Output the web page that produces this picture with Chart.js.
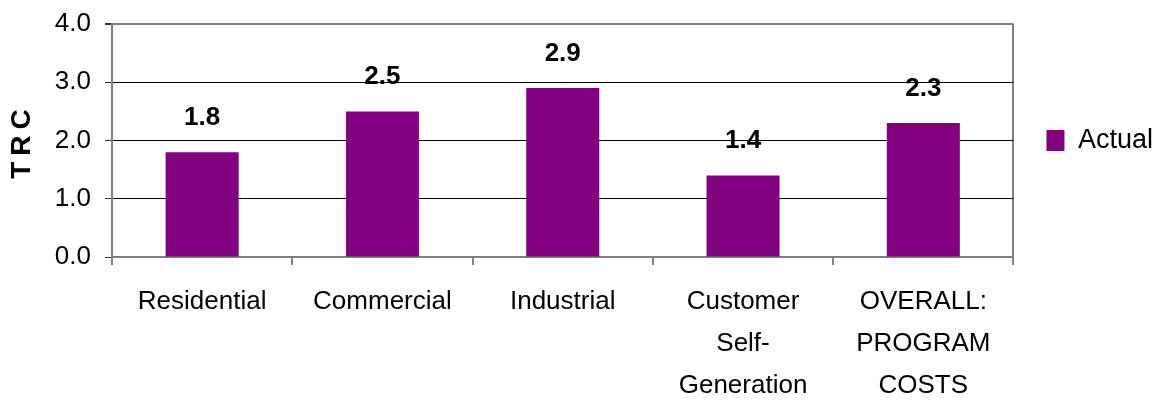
<!DOCTYPE html>
<html>
<head>
<meta charset="utf-8">
<script src="https://cdn.jsdelivr.net/npm/chart.js@4/dist/chart.umd.min.js"></script>
<style>
  html, body { margin: 0; padding: 0; background: #fff; }
  #wrap { width: 1159px; height: 402px; }
</style>
</head>
<body>
<div id="wrap"><canvas id="trc" width="1159" height="402"></canvas></div>
<script>
const categories = [
  'Residential',
  'Commercial',
  'Industrial',
  ['Customer', 'Self-', 'Generation'],
  ['OVERALL:', 'PROGRAM', 'COSTS'],
]
const actual = [1.8, 2.5, 2.9, 1.4, 2.3]
const yTicks = [0, 1, 2, 3, 4]

const PURPLE = '#800080'
const FRAME = '#808080'
const SANS = '"Liberation Sans", Arial, Helvetica, sans-serif'

// value labels sitting above each bar
const valueLabels = {
  id: 'valueLabels',
  afterDatasetsDraw(chart) {
    const ctx = chart.ctx
    const meta = chart.getDatasetMeta(0)
    ctx.save()
    ctx.font = 'bold 26px ' + SANS
    ctx.fillStyle = '#000'
    ctx.textAlign = 'center'
    ctx.textBaseline = 'alphabetic'
    meta.data.forEach((bar, i) => {
      ctx.fillText(actual[i].toFixed(1), bar.x, bar.y - 27)
    })
    ctx.restore()
  },
}

// spaced-out vertical axis title
const axisTitle = {
  id: 'axisTitle',
  afterDraw(chart) {
    const ctx = chart.ctx
    ctx.save()
    ctx.translate(22, 144)
    ctx.rotate(-Math.PI / 2)
    ctx.font = 'bold 28px ' + SANS
    ctx.letterSpacing = '6px'
    ctx.fillStyle = '#000'
    ctx.textAlign = 'center'
    ctx.textBaseline = 'middle'
    ctx.fillText('TRC', 3, 0)
    ctx.restore()
  },
}

new Chart(document.getElementById('trc'), {
  type: 'bar',
  data: {
    labels: categories,
    datasets: [
      {
        label: 'Actual',
        data: actual,
        backgroundColor: PURPLE,
        borderWidth: 0,
        categoryPercentage: 1,
        barPercentage: 0.405,
      },
    ],
  },
  options: {
    responsive: false,
    animation: false,
    layout: { padding: { top: 24, right: -4, left: 0, bottom: 0 } },
    plugins: {
      tooltip: { enabled: false },
      legend: {
        position: 'right',
        fullSize: false,
        labels: {
          boxWidth: 18,
          boxHeight: 21,
          padding: 33,
          color: '#000',
          font: { family: SANS, size: 27 },
        },
      },
    },
    scales: {
      x: {
        grid: {
          offset: true,
          color: (c) => (c.index === 0 || c.index === undefined ? FRAME : 'transparent'),
          lineWidth: 2,
          tickColor: '#000',
          tickLength: 8,
          tickWidth: 1,
        },
        border: { color: FRAME, width: 2 },
        ticks: {
          color: '#000',
          padding: 16,
          maxRotation: 0,
          autoSkip: false,
          font: { family: SANS, size: 26, lineHeight: 1.62 },
        },
        afterFit(scale) {
          scale.height = 145
        },
      },
      y: {
        min: yTicks[0],
        max: yTicks[yTicks.length - 1],
        afterBuildTicks(scale) {
          scale.ticks = yTicks.map((v) => ({ value: v }))
        },
        grid: {
          color: (c) => (c.tick.value === 4 ? FRAME : c.tick.value === 0 ? 'transparent' : '#000'),
          lineWidth: (c) => (c.tick.value === 4 ? 2 : 1),
          tickColor: '#333',
          tickLength: 7,
        },
        border: { color: FRAME, width: 2 },
        ticks: {
          color: '#000',
          padding: 14,
          font: { family: SANS, size: 26 },
          callback: (v) => Number(v).toFixed(1),
        },
        afterFit(scale) {
          scale.width = 112
          scale.paddingTop = 0
          scale.paddingBottom = 0
        },
      },
    },
  },
  plugins: [valueLabels, axisTitle],
})
</script>
</body>
</html>
